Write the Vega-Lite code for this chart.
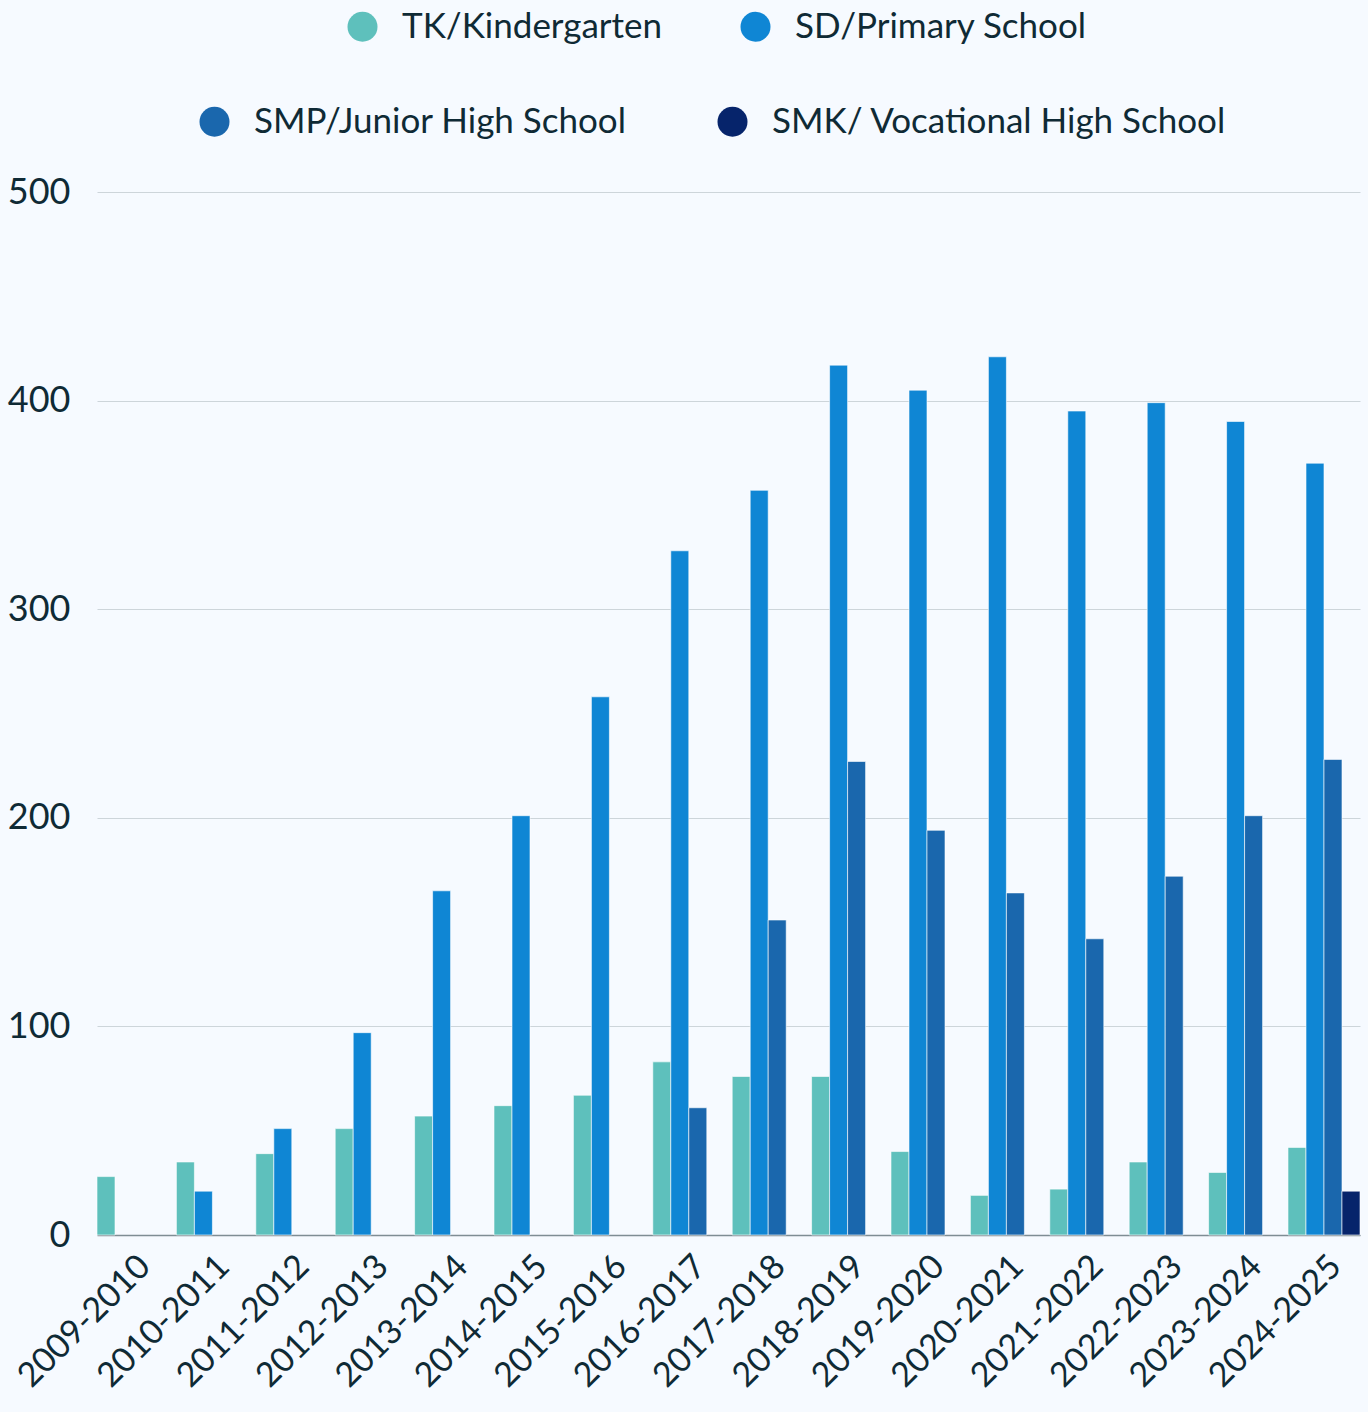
{
  "$schema": "https://vega.github.io/schema/vega-lite/v6.json",
  "width": 1263,
  "height": 1043,
  "autosize": {"type": "none"},
  "padding": {"left": 97, "top": 192, "right": 8, "bottom": 177},
  "background": "#f6faff",
  "config": {
    "font": "Lato",
    "view": {"stroke": null},
    "axis": {"labelFont": "Lato", "labelColor": "#0f2a35"},
    "legend": {"labelFont": "Lato"}
  },
  "data": {
    "values": [
      {"year": "2009-2010", "series": "TK/Kindergarten", "value": 28},
      {"year": "2010-2011", "series": "TK/Kindergarten", "value": 35},
      {"year": "2010-2011", "series": "SD/Primary School", "value": 21},
      {"year": "2011-2012", "series": "TK/Kindergarten", "value": 39},
      {"year": "2011-2012", "series": "SD/Primary School", "value": 51},
      {"year": "2012-2013", "series": "TK/Kindergarten", "value": 51},
      {"year": "2012-2013", "series": "SD/Primary School", "value": 97},
      {"year": "2013-2014", "series": "TK/Kindergarten", "value": 57},
      {"year": "2013-2014", "series": "SD/Primary School", "value": 165},
      {"year": "2014-2015", "series": "TK/Kindergarten", "value": 62},
      {"year": "2014-2015", "series": "SD/Primary School", "value": 201},
      {"year": "2015-2016", "series": "TK/Kindergarten", "value": 67},
      {"year": "2015-2016", "series": "SD/Primary School", "value": 258},
      {"year": "2016-2017", "series": "TK/Kindergarten", "value": 83},
      {"year": "2016-2017", "series": "SD/Primary School", "value": 328},
      {"year": "2016-2017", "series": "SMP/Junior High School", "value": 61},
      {"year": "2017-2018", "series": "TK/Kindergarten", "value": 76},
      {"year": "2017-2018", "series": "SD/Primary School", "value": 357},
      {"year": "2017-2018", "series": "SMP/Junior High School", "value": 151},
      {"year": "2018-2019", "series": "TK/Kindergarten", "value": 76},
      {"year": "2018-2019", "series": "SD/Primary School", "value": 417},
      {"year": "2018-2019", "series": "SMP/Junior High School", "value": 227},
      {"year": "2019-2020", "series": "TK/Kindergarten", "value": 40},
      {"year": "2019-2020", "series": "SD/Primary School", "value": 405},
      {"year": "2019-2020", "series": "SMP/Junior High School", "value": 194},
      {"year": "2020-2021", "series": "TK/Kindergarten", "value": 19},
      {"year": "2020-2021", "series": "SD/Primary School", "value": 421},
      {"year": "2020-2021", "series": "SMP/Junior High School", "value": 164},
      {"year": "2021-2022", "series": "TK/Kindergarten", "value": 22},
      {"year": "2021-2022", "series": "SD/Primary School", "value": 395},
      {"year": "2021-2022", "series": "SMP/Junior High School", "value": 142},
      {"year": "2022-2023", "series": "TK/Kindergarten", "value": 35},
      {"year": "2022-2023", "series": "SD/Primary School", "value": 399},
      {"year": "2022-2023", "series": "SMP/Junior High School", "value": 172},
      {"year": "2023-2024", "series": "TK/Kindergarten", "value": 30},
      {"year": "2023-2024", "series": "SD/Primary School", "value": 390},
      {"year": "2023-2024", "series": "SMP/Junior High School", "value": 201},
      {"year": "2024-2025", "series": "TK/Kindergarten", "value": 42},
      {"year": "2024-2025", "series": "SD/Primary School", "value": 370},
      {"year": "2024-2025", "series": "SMP/Junior High School", "value": 228},
      {"year": "2024-2025", "series": "SMK/ Vocational High School", "value": 21}
    ]
  },
  "encoding": {
    "x": {
      "field": "year",
      "type": "nominal",
      "sort": null,
      "scale": {"paddingInner": 0.093, "paddingOuter": 0},
      "axis": {
        "title": null,
        "labelAngle": -45,
        "labelFontSize": 34,
        "labelPadding": 14,
        "ticks": false,
        "domainColor": "#7f8d94",
        "domainWidth": 1.5,
        "labelColor": "#0f2a35"
      }
    },
    "xOffset": {
      "field": "series",
      "type": "nominal",
      "scale": {
        "domain": ["TK/Kindergarten", "SD/Primary School", "SMP/Junior High School", "SMK/ Vocational High School"],
        "paddingInner": 0,
        "paddingOuter": 0
      }
    },
    "y": {
      "field": "value",
      "type": "quantitative",
      "scale": {"domain": [0, 500]},
      "axis": {
        "title": null,
        "values": [0, 100, 200, 300, 400, 500],
        "labelFontSize": 36,
        "labelPadding": 27,
        "ticks": false,
        "domain": false,
        "gridColor": "#cdd5da",
        "gridWidth": 1,
        "labelColor": "#0f2a35"
      }
    }
  },
  "layer": [
    {
      "transform": [{"filter": "datum.series === 'TK/Kindergarten' || datum.series === 'SD/Primary School'"}],
      "mark": {"type": "bar", "stroke": "#ffffff", "strokeWidth": 1, "strokeOpacity": 0.6},
      "encoding": {
        "fill": {
          "field": "series",
          "type": "nominal",
          "scale": {
            "domain": ["TK/Kindergarten", "SD/Primary School"],
            "range": ["#5ec0bc", "#0f86d4"]
          },
          "legend": {
            "title": null,
            "orient": "none",
            "legendX": 248,
            "legendY": -183,
            "direction": "horizontal",
            "columns": 2,
            "symbolType": "circle",
            "symbolSize": 900,
            "symbolStrokeWidth": 0,
            "labelFontSize": 35,
            "labelColor": "#0f2a35",
            "labelOffset": 22,
            "columnPadding": 75,
            "labelLimit": 1000,
            "padding": 0
          }
        }
      }
    },
    {
      "transform": [{"filter": "datum.series === 'SMP/Junior High School' || datum.series === 'SMK/ Vocational High School'"}],
      "mark": {"type": "bar", "stroke": "#ffffff", "strokeWidth": 1, "strokeOpacity": 0.6},
      "encoding": {
        "color": {
          "field": "series",
          "type": "nominal",
          "scale": {
            "domain": ["SMP/Junior High School", "SMK/ Vocational High School"],
            "range": ["#1a67ad", "#06246b"]
          },
          "legend": {
            "title": null,
            "orient": "none",
            "legendX": 100,
            "legendY": -88,
            "direction": "horizontal",
            "columns": 2,
            "symbolType": "circle",
            "symbolSize": 900,
            "symbolStrokeWidth": 0,
            "labelFontSize": 35,
            "labelColor": "#0f2a35",
            "labelOffset": 22,
            "columnPadding": 88,
            "labelLimit": 1000,
            "padding": 0
          }
        }
      }
    }
  ]
}
